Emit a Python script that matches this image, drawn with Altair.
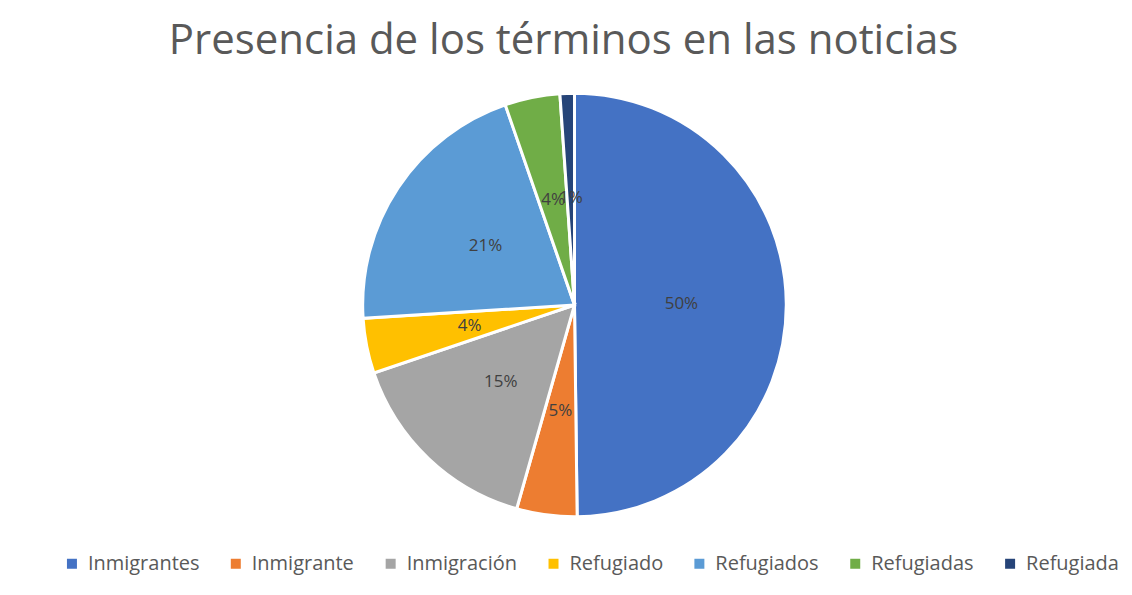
import altair as alt
import pandas as pd

categories = ["Inmigrantes", "Inmigrante", "Inmigración", "Refugiado", "Refugiados", "Refugiadas", "Refugiada"]
values = [49.8, 4.6, 15.4, 4.2, 20.7, 4.2, 1.1]
colors = ["#4472C4", "#ED7D31", "#A5A5A5", "#FFC000", "#5B9BD5", "#70AD47", "#264478"]

df = pd.DataFrame({"term": categories, "value": values, "idx": list(range(len(categories)))})

base = alt.Chart(df).encode(
    theta=alt.Theta("value:Q", stack=True),
    order=alt.Order("idx:Q", sort="ascending"),
)

arcs = base.mark_arc(radius=212, stroke="white", strokeWidth=3).encode(
    color=alt.Color(
        "term:N",
        scale=alt.Scale(domain=categories, range=colors),
        sort=categories,
        legend=alt.Legend(
            title=None,
            orient="none",
            direction="horizontal",
            legendX=37,
            legendY=469,
            symbolType="square",
            symbolSize=100,
            symbolStrokeWidth=0,
            labelFontSize=20,
            labelColor="#595959",
            labelFont="Open Sans",
            labelLimit=0,
            columnPadding=26,
            labelOffset=6,
        ),
    )
)

labels = base.transform_calculate(
    lab="round(datum.value) + '%'"
).mark_text(radius=107, fontSize=17, font="Open Sans", color="#404040").encode(
    text="lab:N"
)

chart = (
    alt.layer(arcs, labels)
    .properties(
        width=1100,
        height=440,
        padding={"left": 17, "top": 12, "right": 0, "bottom": 10},
        title=alt.TitleParams(
            "Presencia de los términos en las noticias",
            fontSize=42,
            font="Open Sans",
            fontWeight="normal",
            color="#595959",
            anchor="middle",
            dx=-11,
            offset=22,
        ),
    )
    .configure_view(stroke=None)
)

chart.save("out.html", embed_options={"renderer": "svg", "actions": False})
